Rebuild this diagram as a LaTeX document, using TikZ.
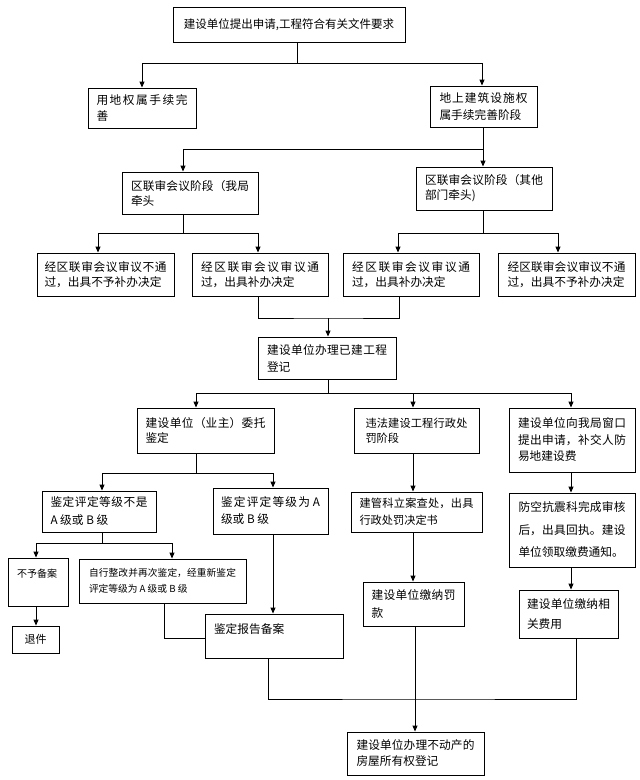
\documentclass[tikz,border=0pt]{standalone}
\usepackage{fontspec}
\setmainfont{Noto Sans CJK SC}
\usetikzlibrary{arrows.meta}
\XeTeXlinebreaklocale "zh"
\XeTeXlinebreakskip=0pt plus 5pt
\tolerance=9999
\newcommand\fz[2]{\fontsize{#1}{#2}\selectfont}
\tikzset{
  box/.style={draw, line width=0.9pt, inner xsep=2pt, inner ysep=2pt, align=justify, font=\fz{11.7}{16}},
  cbox/.style={draw, line width=0.9pt, inner sep=2pt, align=center, font=\fz{11.7}{16}},
  conn/.style={line width=0.9pt},
  arr/.style={conn, -{Triangle[width=5pt,length=6pt]}}
}
\begin{document}
\begin{tikzpicture}[x=1pt,y=-1pt]
\fill[white] (0,0) rectangle (640,780);
\useasboundingbox (0,0) rectangle (640,780);

% boxes
\node[cbox, font=\fz{11.5}{16}, minimum width=232pt, minimum height=35pt] (top) at (289,24.5) {建设单位提出申请,工程符合有关文件要求};
\node[box, minimum width=108pt, minimum height=40pt, text width=91pt] (yongdi) at (142,108) {用地权属手续完\linebreak 善};
\node[box, font=\fz{11.7}{17}, minimum width=107pt, minimum height=41pt, text width=88pt] (dishang) at (483.5,106.5) {地上建筑设施权\linebreak 属手续完善阶段};
\node[box, font=\fz{11.7}{15}, minimum width=136pt, minimum height=42pt, text width=118pt] (wo) at (190,193) {区联审会议阶段（我局\linebreak 牵头};
\node[box, font=\fz{11.7}{15}, minimum width=136pt, minimum height=43pt, text width=118pt] (qita) at (484,188.5) {区联审会议阶段（其他\linebreak 部门牵头)};
\node[box, font=\fz{11.7}{15}, minimum width=137pt, minimum height=43pt, text width=122pt] (L1) at (105.5,274.5) {经区联审会议审议不通\linebreak 过，出具不予补办决定};
\node[box, font=\fz{11.7}{15}, minimum width=136pt, minimum height=43pt, text width=118pt] (L2) at (260,274.5) {经区联审会议审议通\linebreak 过，出具补办决定};
\node[box, font=\fz{11.7}{15}, minimum width=136pt, minimum height=43pt, text width=118pt] (L3) at (411,274.5) {经区联审会议审议通\linebreak 过，出具补办决定};
\node[box, font=\fz{11.7}{15}, minimum width=137pt, minimum height=43pt, text width=118pt] (L4) at (566.5,274.5) {经区联审会议审议不通\linebreak 过，出具不予补办决定};
\node[box, font=\fz{11.7}{17}, minimum width=138pt, minimum height=42pt, text width=120pt] (reg) at (327,358) {建设单位办理已建工程\linebreak 登记};
\node[box, font=\fz{11.7}{15}, minimum width=137pt, minimum height=45pt, text width=120pt] (weituo) at (205.5,430.5) {建设单位（业主）委托\linebreak 鉴定};
\node[box, font=\fz{11.2}{15}, minimum width=125pt, minimum height=45pt, text width=102pt] (weifa) at (416.5,430.5) {违法建设工程行政处\linebreak 罚阶段};
\node[box, font=\fz{11.7}{16.5}, minimum width=126pt, minimum height=64pt, text width=108pt] (bujiao) at (572,440) {建设单位向我局窗口\linebreak 提出申请，补交人防\linebreak 易地建设费};
\node[box, font=\fz{11.7}{18}, minimum width=114pt, minimum height=41pt, text width=97pt] (notA) at (99,511.5) {鉴定评定等级不是\linebreak A 级或 B 级};
\node[box, font=\fz{11.7}{17}, minimum width=115pt, minimum height=46pt, text width=99pt] (isA) at (270.5,511) {鉴定评定等级为 A\linebreak 级或 B 级};
\node[box, font=\fz{10}{18}, minimum width=60pt, minimum height=48pt, text width=42pt] (buyu) at (38,582) {不予备案\par\mbox{}};
\node[box, font=\fz{9.7}{16}, minimum width=167pt, minimum height=44pt, text width=147pt] (zixing) at (162.5,581) {自行整改并再次鉴定，经重新鉴定\linebreak 评定等级为 A 级或 B 级};
\node[cbox, font=\fz{11}{16}, minimum width=47pt, minimum height=27pt] (tuijian) at (35.5,639.5) {退件};
\node[box, font=\fz{11.7}{15}, minimum width=138pt, minimum height=44pt, text width=120pt] (baogao) at (274,636) {鉴定报告备案\par\mbox{}};
\node[box, font=\fz{11.2}{17}, minimum width=131pt, minimum height=40pt, text width=114pt] (jianguan) at (416.5,512) {建管科立案查处，出具\linebreak 行政处罚决定书};
\node[box, font=\fz{11.7}{18}, minimum width=101pt, minimum height=44pt, text width=84pt] (fakuan) at (413.5,604) {建设单位缴纳罚\linebreak 款};
\node[box, font=\fz{11.7}{22.5}, minimum width=126pt, minimum height=74pt, text width=107pt] (fangkong) at (572,530) {防空抗震科完成审核\linebreak 后，出具回执。建设\linebreak 单位领取缴费通知。};
\node[box, font=\fz{11.7}{20}, minimum width=99pt, minimum height=48pt, text width=83pt] (feiyong) at (568.5,614) {建设单位缴纳相\linebreak 关费用};
\node[box, font=\fz{11.7}{16}, minimum width=137pt, minimum height=43pt, text width=118pt] (final) at (415.5,753.5) {建设单位办理不动产的\linebreak 房屋所有权登记};

% junctions
\coordinate (j1) at (297,63);
\coordinate (j2) at (483,149);
\coordinate (j3) at (183,233);
\coordinate (j4) at (483,233);
\coordinate (j5) at (328,318);
\coordinate (j6) at (328,393);
\coordinate (j7) at (196,473);
\coordinate (j8) at (102,543);
\coordinate (j9) at (415,699);

% connectors
\draw[conn] (j1 |- top.south) -- (j1);
\draw[arr] (j1) -| (yongdi.north);
\draw[arr] (j1) -| ([xshift=-1.5pt]dishang.north);

\draw[conn] (j2 |- dishang.south) -- (j2);
\draw[arr] (j2) -| ([xshift=-7pt]wo.north);
\draw[arr] (j2) -- (j2 |- qita.north);

\draw[conn] (j3 |- wo.south) -- (j3);
\draw[arr] (j3) -| ([xshift=-7.5pt]L1.north);
\draw[arr] (j3) -| ([xshift=-2pt]L2.north);

\draw[conn] (j4 |- qita.south) -- (j4);
\draw[arr] (j4) -| ([xshift=-13pt]L3.north);
\draw[arr] (j4) -| ([xshift=-8.5pt]L4.north);

\draw[conn] ([xshift=-2pt]L2.south) |- (j5) -| ([xshift=-12pt]L3.south);
\draw[arr] (j5) -- (j5 |- reg.north);

\draw[conn] (j6 |- reg.south) -- (j6);
\draw[arr] (j6) -| ([xshift=-9.5pt]weituo.north);
\draw[arr] (j6) -| ([xshift=-3.5pt]weifa.north);
\draw[arr] (j6) -| ([xshift=-1pt]bujiao.north);

\draw[conn] (j7 |- weituo.south) -- (j7);
\draw[arr] (j7) -| ([xshift=3pt]notA.north);
\draw[arr] (j7) -| ([xshift=2.5pt]isA.north);

\draw[conn] (j8 |- notA.south) -- (j8);
\draw[arr] (j8) -| ([xshift=-2pt]buyu.north);
\draw[arr] (j8) -| ([xshift=9.5pt]zixing.north);

\draw[arr] ([xshift=-2pt]buyu.south) -- ([xshift=0.5pt]tuijian.north);
\draw[conn] ([xshift=1.5pt]zixing.south) |- ([yshift=-2pt]baogao.west);
\draw[arr] ([xshift=2.5pt]isA.south) -- ([xshift=-1pt]baogao.north);

\draw[arr] ([xshift=-3.5pt]weifa.south) -- ([xshift=-3.5pt]jianguan.north);
\draw[arr] ([xshift=-3.5pt]jianguan.south) -- ([xshift=-0.5pt]fakuan.north);

\draw[arr] ([xshift=-1pt]bujiao.south) -- ([xshift=-1pt]fangkong.north);
\draw[arr] ([xshift=-1pt]fangkong.south) -- ([xshift=2.5pt]feiyong.north);

\draw[conn] ([xshift=-6pt]baogao.south) |- (j9) -| ([xshift=7.5pt]feiyong.south);
\draw[arr] ([xshift=1.5pt]fakuan.south) -- ([xshift=-0.5pt]final.north);
\end{tikzpicture}
\end{document}
